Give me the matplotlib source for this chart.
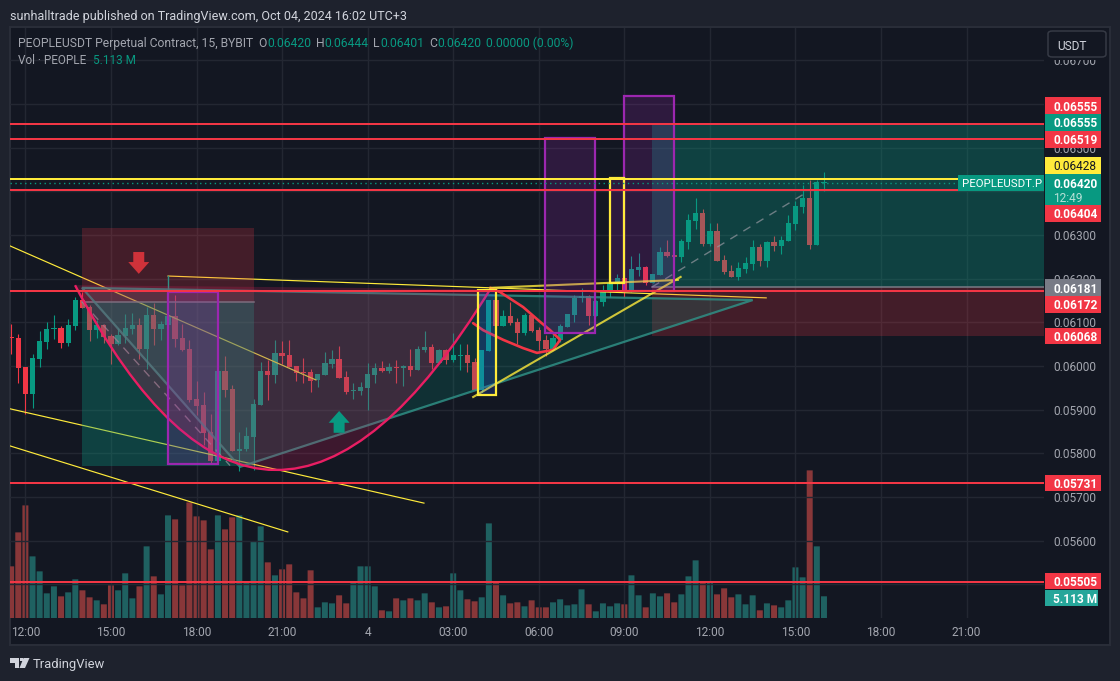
import numpy as np
import matplotlib
matplotlib.use("Agg")
import matplotlib.pyplot as plt
from matplotlib.patches import Rectangle, FancyBboxPatch, PathPatch, Polygon
from matplotlib.path import Path

plt.rcParams['font.family'] = ['Roboto', 'DejaVu Sans']

W, H = 1120, 681
PAGE, PANE, FRAME, GRID = '#1e222d', '#131722', '#2a2e39', '#232732'
UP, DOWN, PURPLE, YEL, BLUE, PINK = '#089981', '#f23645', '#9c27b0', '#ffeb3b', '#2962ff', '#e91e63'
VOL_UP, VOL_DOWN = '#1f6161', '#883739'
FS = 8.6

# ---------------- data (prices in 0.00001 USDT, first bar index -2) ----------------
first_bar = -2
opens = [6067,6063,5998,5936,6016,6055,6084,6086,6052,6092,6151,6134,6082,6093,6068,6051,6068,6084,6093,6038,6116,6084,6093,6114,6064,6038,5924,5910,5848,5782,5988,5947,5805,5809,5837,5910,5988,5979,
         6030,6025,6000,5985,5986,5968,5979,6005,6016,5975,5943,5943,5950,5979,5995,5989,5998,5995,6000,5991,6037,6044,6007,6037,6014,6023,6025,6009,5945,6034,6151,6092,6115,6101,6076,6117,6082,6060,
         6039,6059,6090,6117,6156,6160,6114,6147,6169,6187,6202,6172,6220,6227,6190,6208,6261,6254,6250,6284,6332,6351,6279,6309,6243,6218,6204,6222,6234,6273,6241,6284,6275,6286,6325,6364,6385,6277,6420]
closes = [6064,5996,5936,6018,6057,6084,6086,6053,6093,6151,6133,6083,6093,6067,6051,6070,6086,6093,6038,6116,6084,6096,6114,6061,6036,5921,5908,5846,5782,5988,5944,5805,5811,5839,5912,5988,5979,6029,
          6023,5998,5985,5984,5966,5982,6007,6016,5972,5940,5945,5952,5982,5995,5989,5998,5995,6000,5991,6039,6044,6007,6037,6014,6025,6025,6007,5945,6037,6151,6092,6115,6099,6076,6117,6080,6057,6039,
          6064,6092,6119,6156,6160,6114,6149,6169,6190,6202,6172,6222,6227,6190,6211,6261,6252,6250,6286,6334,6351,6279,6309,6241,6215,6204,6224,6236,6273,6241,6284,6275,6289,6328,6367,6385,6277,6422,6420]
highs = [6097,6073,5998,6028,6081,6100,6116,6091,6107,6158,6170,6139,6105,6097,6074,6086,6119,6121,6109,6135,6145,6103,6120,6162,6097,6059,5965,5941,5889,5989,6022,5956,5848,5860,5924,6009,6013,6059,
         6057,6060,6000,6018,5993,5981,6031,6037,6046,5989,5961,5963,6007,6007,6011,6007,6014,6002,6039,6046,6080,6050,6039,6039,6076,6050,6050,6018,6037,6151,6151,6128,6147,6110,6121,6119,6089,6071,
         6075,6096,6119,6163,6179,6163,6151,6185,6195,6211,6202,6252,6259,6229,6211,6273,6289,6254,6291,6348,6385,6360,6328,6328,6254,6231,6238,6250,6289,6279,6286,6298,6298,6346,6378,6415,6426,6426,6444]
lows = [6028,5960,5889,5904,5998,6040,6062,6041,6046,6083,6132,6057,6064,6053,6005,6047,6053,6074,6017,5994,6047,6059,6090,6044,6035,5918,5887,5818,5776,5782,5929,5805,5759,5805,5761,5910,5921,5960,
        6004,5997,5966,5960,5941,5951,5979,5995,5972,5936,5924,5933,5899,5960,5987,5983,5962,5954,5977,5991,6032,5993,6006,6005,6009,5991,5986,5945,5941,6034,6092,6092,6094,6050,6071,6078,6037,6023,
        6037,6056,6090,6101,6147,6094,6114,6137,6158,6174,6158,6170,6206,6185,6189,6208,6250,6250,6238,6268,6314,6275,6275,6241,6211,6204,6197,6213,6220,6229,6227,6263,6257,6286,6312,6351,6268,6277,6401]
volumes_m = [12.17,20.17,26.53,14.52,10.99,5.81,7.46,5.10,6.04,9.11,6.52,4.87,4.16,3.22,7.69,6.52,10.52,4.63,7.46,16.88,9.81,5.57,24.18,23.24,7.69,27.24,23.94,23.0,16.17,24.18,20.88,23.71,24.18,8.64,18.06,21.59,13.11,10.05,11.46,12.64,6.04,4.63,11.23,2.51,3.69,3.45,5.34,3.45,8.64,12.17,12.17,7.46,1.81,1.57,4.63,4.16,4.63,4.16,
             5.81,3.69,2.51,2.75,10.52,6.52,4.40,3.93,4.87,22.29,8.64,5.34,3.45,3.69,2.75,4.16,2.51,2.51,3.69,4.40,2.98,3.22,6.75,3.22,1.57,3.45,2.75,3.45,3.22,10.05,5.34,2.51,5.81,5.10,5.81,3.69,5.57,9.81,13.58,8.64,8.64,5.57,6.99,4.87,5.57,3.22,5.34,1.81,3.45,2.98,2.51,4.16,11.93,9.58,34.78,16.88,5.113]

time_ticks = [0, 12, 24, 36, 48, 60, 72, 84, 96, 108, 120, 132]
time_labels = ['12:00', '15:00', '18:00', '21:00', '4', '03:00', '06:00', '09:00', '12:00', '15:00', '18:00', '21:00']
price_ticks = [0.055, 0.056, 0.057, 0.058, 0.059, 0.060, 0.061, 0.062, 0.063, 0.064, 0.065, 0.066, 0.067]
price_labels = ['', '0.05600', '0.05700', '0.05800', '0.05900', '0.06000', '0.06100', '0.06200', '0.06300', '', '0.06500', '', '0.06700']
red_levels = [0.06555, 0.06519, 0.06404, 0.06172, 0.05731, 0.05505]
yellow_level = 0.06428
last_price = 0.06420

# drawings, (bar, price in 0.00001)
thin_lines = [((-2.16, 6275), (40.75, 5968)), ((-2.16, 5902), (55.9, 5686)), ((-2.16, 5817), (36.8, 5620)), ((20, 6206), (103.9, 6156))]
thick_lines = [((62.8, 5929), (91.9, 6204)), ((65.2, 6179), (91.5, 6197))]
purple_boxes = [(20, 26.95, 5776, 6170), (72.9, 79.9, 6076, 6522), (84, 91, 6172, 6618)]
yellow_boxes = [(63.5, 66, 5934, 6174, BLUE), (82, 84, 6190, 6430, PURPLE)]
triangle = [(7.94, 6179), (30.1, 5769), (102, 6151)]
cup = [(6.96, 6185), (34, 5343), (65.2, 6176)]
handle = [(62.8, 6098), (64.2, 6082), (67, 6060), (69.8, 6041), (71.75, 6030), (74, 6037), (75, 6060), (73.6, 6082),
          (72.2, 6101), (69.8, 6135), (66.6, 6169), (65.2, 6179)]
short_pos = dict(x0=8, x1=32, stop=6315, entry=6146, target=5772)
long_pos = dict(x0=87.9, x1=143, target=6555, entry=6181, stop=6068)
pos_dashes = [((8, 6146), (28.7, 5772)), ((87.9, 6181), (109.6, 6398))]

# ---------------- figure ----------------
fig = plt.figure(figsize=(W / 100, H / 100), dpi=100, facecolor=PAGE)
def fx(x): return x / W
def fy(y): return 1 - y / H
L, R, T, B = 10, 1044, 28, 618
rect = [fx(L), fy(B), (R - L) / W, (B - T) / H]

fig.add_artist(Rectangle((fx(9.5), fy(645)), 1100.5 / W, 618 / H, transform=fig.transFigure, fc=PANE, ec=FRAME, lw=1.4, zorder=-1))

bars = np.arange(first_bar, first_bar + len(opens))
o, c, h, l = [np.array(a) / 1e5 for a in (opens, closes, highs, lows)]
is_up = c >= o
xlim = (-2.16, 142.86)

axv = fig.add_axes(rect, zorder=0)
axv.patch.set_visible(False)
axv.set_xlim(xlim)
axv.set_ylim(0, 139)
axv.axis('off')
vb = axv.bar(bars, volumes_m, width=0.84, color=[VOL_UP if u else VOL_DOWN for u in is_up], linewidth=0)
for b in vb:
    b.set_snap(False)

ax = fig.add_axes(rect, zorder=1)
ax.patch.set_visible(False)
ax.set_xlim(xlim)
ax.set_ylim(0.054229, 0.06774)
for s in ax.spines.values():
    s.set_visible(False)
ax.set_axisbelow(True)
ax.grid(True, color=GRID, lw=1)
ax.yaxis.tick_right()
ax.set_yticks(price_ticks, price_labels)
ax.set_xticks(time_ticks, time_labels)
ax.tick_params(axis='y', length=0, pad=6.5, labelsize=FS, labelcolor='#a3a6af')
ax.tick_params(axis='x', length=0, pad=6, labelsize=FS, labelcolor='#a3a6af')

colors = np.where(is_up, UP, DOWN)
ax.vlines(bars, l, h, colors=colors, lw=0.8, zorder=2)
ax.bar(bars, np.maximum(np.abs(c - o), 0.00002), bottom=np.minimum(o, c), width=0.74, color=colors, linewidth=0, zorder=2)

def P(v): return v / 1e5
def box(x0, x1, y0, y1, **kw):
    ax.add_patch(Rectangle((x0, P(y0)), x1 - x0, P(y1 - y0), **kw))

# thin trend lines lie under the position tools
for a, b in thin_lines:
    ax.plot([a[0], b[0]], [P(a[1]), P(b[1])], color=YEL, lw=0.85, zorder=2.5)

# position tools
box(short_pos['x0'], short_pos['x1'], short_pos['entry'], short_pos['stop'], fc=DOWN, alpha=0.22, lw=0, zorder=3)
box(short_pos['x0'], short_pos['x1'], short_pos['target'], short_pos['entry'], fc=UP, alpha=0.33, lw=0, zorder=3)
box(long_pos['x0'], long_pos['x1'], long_pos['entry'], long_pos['target'], fc=UP, alpha=0.33, lw=0, zorder=3)
box(long_pos['x0'], long_pos['x1'], long_pos['stop'], long_pos['entry'], fc=DOWN, alpha=0.22, lw=0, zorder=3)
ax.plot([short_pos['x0'], short_pos['x1']], [P(short_pos['entry'])] * 2, color='#787b86', lw=1.1, zorder=3.5)
ax.plot([long_pos['x0'], long_pos['x1']], [P(long_pos['entry'])] * 2, color='#787b86', lw=1.1, zorder=3.5)
for a, b in pos_dashes:
    ax.plot([a[0], b[0]], [P(a[1]), P(b[1])], color='#9598a1', lw=1, ls=(0, (6, 5)), alpha=0.7, zorder=3.6)

# triangle
tri = [(x, P(y)) for x, y in triangle]
ax.add_patch(Polygon(tri, closed=True, fc=UP, alpha=0.2, lw=0, zorder=4))
ax.add_patch(Polygon(tri, closed=True, fc='none', ec='#2f8f85', lw=1.6, alpha=0.85, zorder=4.1))
ax.plot([20, 20], [P(6206), P(6169)], color='#2f8f85', lw=1, zorder=4.1)

# cup
cup_xy = [(x, P(y)) for x, y in cup]
ax.add_patch(PathPatch(Path(cup_xy + [cup_xy[0]], [Path.MOVETO, Path.CURVE3, Path.CURVE3, Path.CLOSEPOLY]), fc=PINK, alpha=0.2, lw=0, zorder=5))
ax.add_patch(PathPatch(Path(cup_xy, [Path.MOVETO, Path.CURVE3, Path.CURVE3]), fc='none', ec=PINK, lw=1.7, zorder=5.1))
ax.plot([x for x, _ in handle], [P(y) for _, y in handle], color=DOWN, lw=1.9, solid_joinstyle='round', solid_capstyle='round', zorder=5.2)

# thick yellow lines, a bit muted
for a, b in thick_lines:
    ax.plot([a[0], b[0]], [P(a[1]), P(b[1])], color=YEL, lw=1.5, alpha=0.8, zorder=5.5)

# coloured rectangles
for x0, x1, y0, y1 in purple_boxes:
    box(x0, x1, y0, y1, fc=PURPLE, alpha=0.2, lw=0, zorder=6)
    box(x0, x1, y0, y1, fc='none', ec=PURPLE, lw=1.6, zorder=6.1)
for x0, x1, y0, y1, col in yellow_boxes:
    box(x0, x1, y0, y1, fc=col, alpha=0.2, lw=0, zorder=6)
    box(x0, x1, y0, y1, fc='none', ec=YEL, lw=1.6, zorder=6.2)

# levels
ax.axhline(last_price, color=UP, lw=1, ls=(0, (1, 2.5)), zorder=7)
for lev in red_levels:
    ax.axhline(lev, color=DOWN, lw=1.45, zorder=7.2)
ax.axhline(yellow_level, color=YEL, lw=1.45, zorder=7.3)

# arrows
def arrow(bar, base, neck, tip, shaft, head, col):
    pts = [(bar - shaft, base), (bar + shaft, base), (bar + shaft, neck), (bar + head, neck), (bar, tip), (bar - head, neck), (bar - shaft, neck)]
    ax.add_patch(Polygon([(x, P(y)) for x, y in pts], closed=True, fc=col, lw=0, zorder=8))
arrow(15.9, 6261, 6238, 6211, 0.77, 1.47, '#d0323a')
arrow(44.0, 5847, 5870, 5897, 0.77, 1.47, UP)

# ---------------- tags on the price scale ----------------
# an opaque strip of the scale around the currency button cuts the topmost tick label
fig.add_artist(Rectangle((fx(1045), fy(59.5)), 64 / W, 31 / H, transform=fig.transFigure, fc=PANE, lw=0, zorder=2))

def tag(text, yc, bg, fg='white', weight='bold', x0=1045, x1=1101, h=16.6, tx=1053, fs=FS):
    fig.add_artist(Rectangle((fx(x0), fy(yc + h / 2)), (x1 - x0) / W, h / H, transform=fig.transFigure, fc=bg, lw=0, zorder=3))
    fig.text(fx(tx), fy(yc), text, color=fg, fontsize=fs, fontweight=weight, va='center_baseline', ha='left', zorder=4)

tag('0.06555', 105.7, DOWN)
tag('0.06555', 122.3, UP)
tag('0.06519', 139.3, DOWN)
tag('0.06428', 165.3, YEL, fg='#131722', weight='normal')
fig.add_artist(Rectangle((fx(1045), fy(205)), 56 / W, 31 / H, transform=fig.transFigure, fc=UP, lw=0, zorder=3))
fig.text(fx(1053), fy(182.5), '0.06420', color='white', fontsize=FS, fontweight='bold', va='center_baseline', zorder=4)
fig.text(fx(1053), fy(197), '12:49', color='#b5e0d6', fontsize=FS, va='center_baseline', zorder=4)
tag('0.06404', 213.3, DOWN)
tag('0.06181', 287.7, '#787b86')
tag('0.06172', 304.3, DOWN)
tag('0.06068', 336, DOWN)
tag('0.05731', 483, DOWN)
tag('0.05505', 581, DOWN)
tag('5.113 M', 598, '#26a69a', x1=1098)
tag('PEOPLEUSDT.P', 183, UP, weight='normal', x0=958, x1=1044, tx=962, fs=8.2)

# USDT button
fig.add_artist(FancyBboxPatch((fx(1048), fy(57)), 58 / W, 26 / H, boxstyle='round,pad=0,rounding_size=0.004', transform=fig.transFigure,
                              fc=PANE, ec='#363a45', lw=1.1, zorder=5))
fig.text(fx(1057), fy(44.5), 'USDT', color='#d1d4dc', fontsize=FS, va='center_baseline', zorder=6)

# ---------------- header text ----------------
fig.text(fx(10), fy(15), 'sunhalltrade published on TradingView.com, Oct 04, 2024 16:02 UTC+3', color='#d1d4dc', fontsize=9, va='center_baseline', zorder=6)
grey = '#a3a6af'
LEG = 8.75
fig.text(fx(18), fy(42), 'PEOPLEUSDT Perpetual Contract, 15, BYBIT', color=grey, fontsize=LEG, va='center_baseline', zorder=6)
for x, lab, vx, val in [(258, 'O', 267, '0.06420'), (316, 'H', 324, '0.06444'), (373, 'L', 380, '0.06401'), (429, 'C', 437, '0.06420')]:
    fig.text(fx(x), fy(42), lab, color=grey, fontsize=LEG, va='center_baseline', zorder=6)
    fig.text(fx(vx), fy(42), val, color=UP, fontsize=LEG, va='center_baseline', zorder=6)
fig.text(fx(486), fy(42), '0.00000 (0.00%)', color=UP, fontsize=LEG, va='center_baseline', zorder=6)
fig.text(fx(18), fy(58.5), 'Vol · PEOPLE', color=grey, fontsize=8.5, va='center_baseline', zorder=6)
fig.text(fx(93), fy(58.5), '5.113 M', color=UP, fontsize=8.5, va='center_baseline', zorder=6)

# ---------------- logo ----------------
logo = '#d1d4dc'
fig.add_artist(Polygon([(fx(10), fy(658)), (fx(19), fy(658)), (fx(19), fy(668)), (fx(14.5), fy(668)), (fx(14.5), fy(662.5)), (fx(10), fy(662.5))],
                       transform=fig.transFigure, fc=logo, lw=0, zorder=6))
fig.add_artist(Polygon([(fx(23.5), fy(658)), (fx(29.5), fy(658)), (fx(25), fy(668)), (fx(19.5), fy(668))],
                       transform=fig.transFigure, fc=logo, lw=0, zorder=6))
fig.add_artist(Polygon([(fx(19.5), fy(658)), (fx(22.5), fy(658)), (fx(22.5), fy(661)), (fx(19.5), fy(661))],
                       transform=fig.transFigure, fc=logo, lw=0, zorder=6))
fig.text(fx(33), fy(663), 'TradingView', color=logo, fontsize=9.4, va='center_baseline', zorder=6)

fig.savefig('out.png', dpi=100, facecolor=PAGE)
